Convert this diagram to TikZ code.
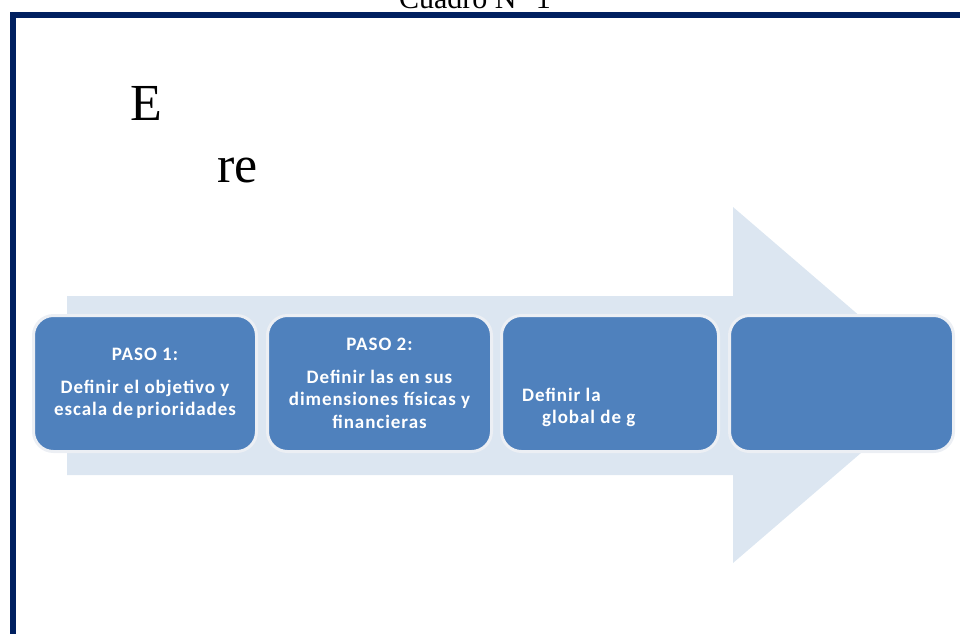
\documentclass[tikz,border=0pt]{standalone}
\usepackage{fontspec}
\setmainfont{Liberation Serif}
\newfontfamily\boxfont[LetterSpace=5]{Carlito}
\usepackage{tikz}
\definecolor{marco}{HTML}{002060}
\definecolor{flecha}{HTML}{DCE6F1}
\definecolor{paso}{HTML}{4F81BD}
\definecolor{borde}{HTML}{ECEFF4}
\tikzset{pasotxt/.style={text=white,font=\boxfont\bfseries\fontsize{19}{22.5}\selectfont},
  pasobox/.style={rectangle,rounded corners=20pt,fill=paso,draw=borde,line width=3pt,
    minimum width=223pt,minimum height=136pt,align=center,pasotxt}}
\newcommand{\pasopt}[4][]{\node[pasobox,anchor=north west,#1] at (#2) (#3) {#4}}

\begin{document}
\begin{tikzpicture}[x=1pt,y=-1pt]
  \useasboundingbox (0,0) rectangle (960,633);

  % flecha de fondo
  \fill[flecha] (67,296) -- (733,296) -- (733,207) -- (940,385)
                -- (733,563) -- (733,475) -- (67,475) -- cycle;

  % marco y titulo
  \draw[marco,line width=6pt] (13,640) -- (13,15) -- (970,15);
  \node[font=\fontsize{30}{30}\selectfont,anchor=base] (titulo) at (475,8) {Cuadro N° 1};
  \node[font=\fontsize{52}{52}\selectfont,anchor=base west] (e) at (127,120) {E};
  \node[font=\fontsize{52}{52}\selectfont,anchor=base west] (re) at (214,182) {re};

  \pasopt{32,314}{paso1}{PASO 1:\\[10pt]Definir el objetivo y\\escala de\,prioridades};
  \pasopt[minimum width=224pt]{266,314}{paso2}{PASO 2:\\[10pt]Definir las en sus\\dimensiones físicas y\\financieras};
  \pasopt[minimum width=217pt]{500,314}{paso3}{};
  \pasopt[minimum width=224pt]{728,314}{paso4}{};
  \node[anchor=base west,pasotxt,inner sep=0pt] (paso3a) at (522,401) {Definir la};
  \node[anchor=base west,pasotxt,inner sep=0pt] (paso3b) at (542,423) {global de g};
\end{tikzpicture}
\end{document}
